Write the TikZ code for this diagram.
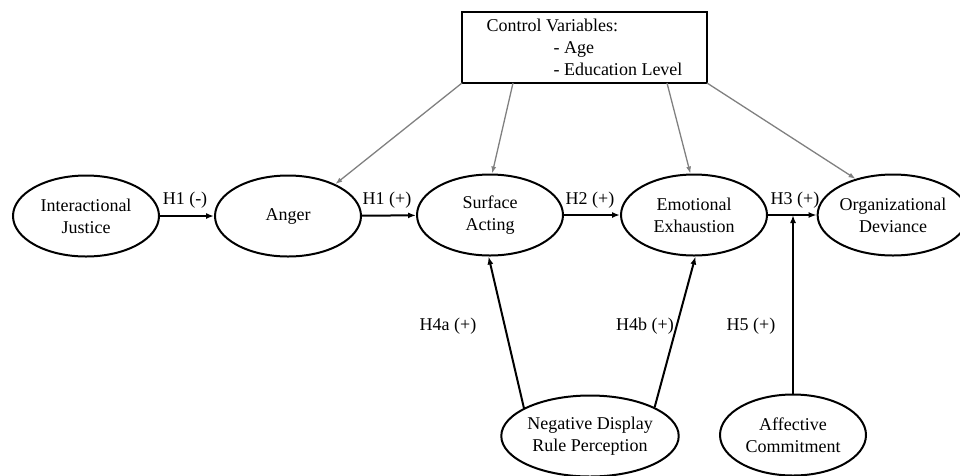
\documentclass[tikz,border=0pt]{standalone}
\usepackage{fontspec}
\setmainfont{Liberation Serif}
\usetikzlibrary{shapes.geometric,arrows.meta}
\begin{document}
\begin{tikzpicture}[x=1pt,y=-1pt,
  every node/.style={font=\fontsize{18}{22}\selectfont},
  var/.style={ellipse,draw,line width=2pt,minimum width=146pt,minimum height=81pt,inner sep=0pt,align=center},
  path/.style={line width=2pt,-{Latex[length=8pt,width=6pt]}},
  ctl/.style={gray,line width=1.3pt,-{Latex[length=7pt,width=5pt]}},
  lbl/.style={inner sep=0pt}]
\useasboundingbox (0,0) rectangle (960,475);
\node[var] (ij) at (86,216) {Interactional\\Justice};
\node[var] (an) at (288,216) {Anger};
\node[var] (sa) at (490,215) {Surface\\Acting};
\node[var] (ee) at (694,215) {Emotional\\Exhaustion};
\node[var,minimum width=138pt] (od) at (893,215) {Organizational\\Deviance};
\node[var] (nd) at (590,436) {Negative Display\\Rule Perception};
\node[var] (ac) at (793,435) {Affective\\Commitment};
\node[draw,line width=2pt,minimum width=245pt,minimum height=71pt,align=left,inner sep=0pt] (cv) at (584.5,47.5)
  {Control Variables:\\\hspace*{67pt}- Age\\\hspace*{67pt}- Education Level};
\coordinate (c1) at (462,83);
\coordinate (c2) at (513,83);
\coordinate (c3) at (667,83);
\coordinate (c4) at (707,83);
\draw[ctl] (c1) -- (an.34);
\draw[ctl] (c2) -- (sa.87);
\draw[ctl] (c3) -- (ee.95);
\draw[ctl] (c4) -- (od.136);
\draw[path] (ij) -- (an);
\draw[path] (an) -- (sa);
\draw[path] (sa) -- (ee);
\draw[path] (ee) -- (od);
\coordinate (m5) at (ac.north |- ee.east);
\draw[path] (ac.north) -- (m5);
\draw[path] (nd.157) -- (sa.268);
\draw[path] (nd.24) -- (ee.272);
\node[lbl] (l1) at (185,200) {H1 (-)};
\node[lbl] (l2) at (387,200) {H1 (+)};
\node[lbl] (l3) at (590,200) {H2 (+)};
\node[lbl] (l4) at (795,200) {H3 (+)};
\node[lbl] (l5) at (448,326) {H4a (+)};
\node[lbl] (l6) at (645,326) {H4b (+)};
\node[lbl] (l7) at (751,326) {H5 (+)};
\end{tikzpicture}
\end{document}
